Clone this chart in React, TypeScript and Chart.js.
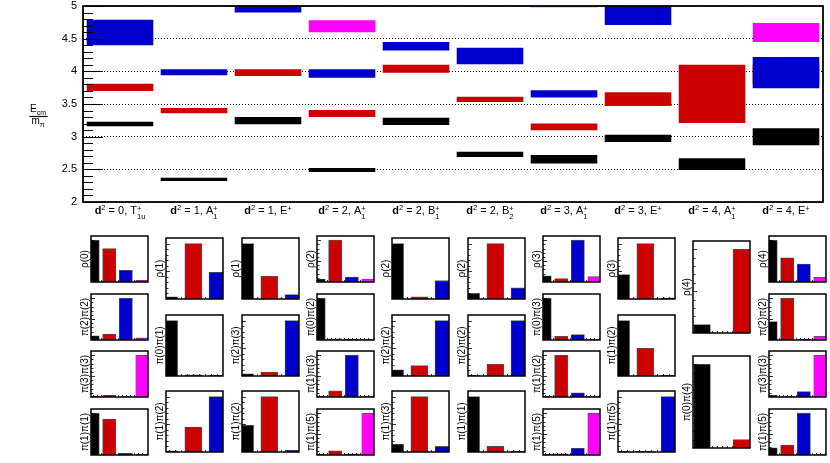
import React, { useEffect, useRef } from "react";
import { Chart, registerables } from "chart.js";

Chart.register(...registerables);

const FONT = '"Liberation Sans", Arial, Helvetica, sans-serif';

// ---------------- top panel: energy levels ----------------
const categories = [
  "d2=0, T1u+", "d2=1, A1+", "d2=1, E+", "d2=2, A1+", "d2=2, B1+",
  "d2=2, B2+", "d2=3, A1+", "d2=3, E+", "d2=4, A1+", "d2=4, E+",
];
const dSquared = [0, 1, 1, 2, 2, 2, 3, 3, 4, 4];
const irrepLetter = ["T", "A", "E", "A", "B", "B", "A", "E", "A", "E"];
const irrepSub = ["1u", "1", "", "1", "1", "2", "1", "", "1", ""];
const yMin = 2;
const yMax = 5;
const yStep = 0.5;

type Band = [number, number] | null;
const levelBlack: Band[] = [
  [3.16, 3.23], [2.32, 2.37], [3.19, 3.3], [2.46, 2.52], [3.18, 3.29],
  [2.69, 2.77], [2.59, 2.72], [2.92, 3.03], [2.49, 2.67], [2.87, 3.13],
];
const levelRed: Band[] = [
  [3.7, 3.81], [3.36, 3.44], [3.93, 4.03], [3.3, 3.41], [3.98, 4.1],
  [3.53, 3.61], [3.1, 3.2], [3.47, 3.68], [3.21, 4.1], [3.81, 4.1],
];
const levelBlue: Band[] = [
  [4.4, 4.79], [3.94, 4.03], [4.9, 5.05], [3.9, 4.03], [4.32, 4.45],
  [4.11, 4.36], [3.6, 3.71], [4.71, 5.05], null, [3.74, 4.22],
];
const levelMagenta: Band[] = [
  null, null, null, [4.6, 4.78], null, null, [4.98, 5.05], null, null, [4.45, 4.74],
];

// ---------------- bottom panels: overlaps ----------------
const opsCol0 = ["ρ(0)", "π(2)π(2)", "π(3)π(3)", "π(1)π(1)"];
const zCol0 = [[1.0, 0.8, 0.28, 0.04], [0.1, 0.14, 1.0, 0.05], [0.02, 0.04, 0.01, 1.0], [1.0, 0.86, 0.04, 0.02]];
const opsCol1 = ["ρ(1)", "π(0)π(1)", "π(1)π(2)"];
const zCol1 = [[0.04, 1.0, 0.48], [1.0, 0.02, 0.01], [0.02, 0.45, 1.0]];
const opsCol2 = ["ρ(1)", "π(2)π(3)", "π(1)π(2)"];
const zCol2 = [[1.0, 0.41, 0.08], [0.04, 0.07, 1.0], [0.48, 1.0, 0.03]];
const opsCol3 = ["ρ(2)", "π(0)π(2)", "π(1)π(3)", "π(1)π(5)"];
const zCol3 = [[0.07, 1.0, 0.12, 0.07], [1.0, 0.03, 0.02, 0.01], [0.01, 0.15, 1.0, 0.01], [0.01, 0.1, 0.03, 1.0]];
const opsCol4 = ["ρ(2)", "π(2)π(2)", "π(1)π(3)"];
const zCol4 = [[1.0, 0.04, 0.33], [0.11, 0.19, 1.0], [0.14, 1.0, 0.1]];
const opsCol5 = ["ρ(2)", "π(2)π(2)", "π(1)π(1)"];
const zCol5 = [[0.1, 1.0, 0.2], [0.01, 0.21, 1.0], [1.0, 0.1, 0.01]];
const opsCol6 = ["ρ(3)", "π(0)π(3)", "π(1)π(2)", "π(1)π(5)"];
const zCol6 = [[0.15, 0.08, 1.0, 0.13], [1.0, 0.09, 0.13, 0.01], [0.01, 1.0, 0.1, 0.01], [0.01, 0.03, 0.16, 1.0]];
const opsCol7 = ["ρ(3)", "π(1)π(2)", "π(1)π(5)"];
const zCol7 = [[0.44, 1.0, 0.02], [1.0, 0.5, 0.01], [0.01, 0.01, 1.0]];
const opsCol8 = ["ρ(4)", "π(0)π(4)"];
const zCol8 = [[0.1, 0, 1.0], [1.0, 0, 0.1]];
const opsCol9 = ["ρ(4)", "π(2)π(2)", "π(3)π(3)", "π(1)π(5)"];
const zCol9 = [[1.0, 0.58, 0.43, 0.11], [0.44, 1.0, 0.02, 0.09], [0.04, 0.01, 0.13, 1.0], [0.17, 0.24, 1.0, 0.01]];

const BLACK = "#000000";
const RED = "#cc0000";
const BLUE = "#0000cc";
const MAGENTA = "#ff00ff";
const colors4 = [BLACK, RED, BLUE, MAGENTA];
const colors3 = [BLACK, RED, BLUE];
const colors3b = [BLACK, BLUE, RED];

const panelColumns = [
  { ops: opsCol0, z: zCol0, colors: colors4, xr: [-0.1, 3.34], bp: 0.8 },
  { ops: opsCol1, z: zCol1, colors: colors3, xr: [-0.13, 2.23], bp: 0.7 },
  { ops: opsCol2, z: zCol2, colors: colors3, xr: [-0.13, 2.23], bp: 0.7 },
  { ops: opsCol3, z: zCol3, colors: colors4, xr: [-0.1, 3.34], bp: 0.8 },
  { ops: opsCol4, z: zCol4, colors: colors3, xr: [-0.13, 2.23], bp: 0.7 },
  { ops: opsCol5, z: zCol5, colors: colors3, xr: [-0.13, 2.23], bp: 0.7 },
  { ops: opsCol6, z: zCol6, colors: colors4, xr: [-0.1, 3.34], bp: 0.8 },
  { ops: opsCol7, z: zCol7, colors: colors3, xr: [-0.13, 2.23], bp: 0.7 },
  { ops: opsCol8, z: zCol8, colors: colors3b, xr: [-0.46, 2.44], bp: 0.85 },
  { ops: opsCol9, z: zCol9, colors: colors4, xr: [-0.1, 3.34], bp: 0.8 },
];

const rowLayouts: Record<number, { top: number; step: number; h: number }> = {
  4: { top: 236, step: 57.7, h: 46 },
  3: { top: 238, step: 76.7, h: 61 },
  2: { top: 241, step: 115, h: 92 },
};

// ---------------- top chart ----------------
function drawXLabel(ctx: CanvasRenderingContext2D, cx: number, base: number, i: number) {
  const fs = 11;
  const sm = 7.5;
  const bold = `bold ${fs}px ${FONT}`;
  const norm = `${fs}px ${FONT}`;
  const small = `${sm}px ${FONT}`;
  const mainText = ` = ${dSquared[i]}, ${irrepLetter[i]}`;
  ctx.font = bold;
  const wd = ctx.measureText("d").width;
  ctx.font = small;
  const w2 = ctx.measureText("2").width;
  const wPlus = ctx.measureText("+").width;
  const wSub = ctx.measureText(irrepSub[i]).width;
  ctx.font = norm;
  const wMain = ctx.measureText(mainText).width;
  const total = wd + w2 + wMain + Math.max(wPlus, wSub);
  let x = cx - total / 2;
  ctx.fillStyle = "#000";
  ctx.textAlign = "left";
  ctx.textBaseline = "alphabetic";
  ctx.font = bold;
  ctx.fillText("d", x, base);
  x += wd;
  ctx.font = small;
  ctx.fillText("2", x, base - 4);
  x += w2;
  ctx.font = norm;
  ctx.fillText(mainText, x, base);
  x += wMain;
  ctx.font = small;
  ctx.fillText("+", x, base - 3.5);
  if (irrepSub[i]) ctx.fillText(irrepSub[i], x, base + 4.5);
}

const topDecor = {
  id: "topDecor",
  afterDraw(chart: any) {
    const { ctx, chartArea } = chart;
    const { left, right, top, bottom } = chartArea;
    const ys = chart.scales.y;
    const xs = chart.scales.x;
    ctx.save();
    // ticks on the left axis (inside)
    ctx.strokeStyle = "#000";
    ctx.lineWidth = 1;
    for (let k = 0; k <= Math.round((yMax - yMin) / 0.1); k++) {
      const v = yMin + k * 0.1;
      const y = Math.round(ys.getPixelForValue(v)) + 0.5;
      const major = k % 5 === 0;
      ctx.beginPath();
      ctx.moveTo(left, y);
      ctx.lineTo(left + (major ? 20 : 10), y);
      ctx.stroke();
    }
    // frame
    ctx.lineWidth = 1.8;
    ctx.strokeRect(left, top, right - left, bottom - top);
    // category labels
    for (let i = 0; i < categories.length; i++) {
      drawXLabel(ctx, xs.getPixelForValue(i), 214, i);
    }
    // y title: E_cm / m_pi
    const cx = 38;
    ctx.fillStyle = "#000";
    ctx.textBaseline = "alphabetic";
    ctx.textAlign = "left";
    ctx.font = `10px ${FONT}`;
    const wE = ctx.measureText("E").width;
    ctx.font = `7px ${FONT}`;
    const wcm = ctx.measureText("cm").width;
    let x = cx - (wE + wcm) / 2;
    ctx.font = `10px ${FONT}`;
    ctx.fillText("E", x, 112);
    ctx.font = `7px ${FONT}`;
    ctx.fillText("cm", x + wE, 114.5);
    ctx.lineWidth = 1.2;
    ctx.beginPath();
    ctx.moveTo(29.5, 116.5);
    ctx.lineTo(47.5, 116.5);
    ctx.stroke();
    ctx.font = `10px ${FONT}`;
    const wm = ctx.measureText("m").width;
    ctx.font = `7px ${FONT}`;
    const wp = ctx.measureText("π").width;
    x = cx - (wm + wp) / 2;
    ctx.font = `10px ${FONT}`;
    ctx.fillText("m", x, 123.5);
    ctx.font = `7px ${FONT}`;
    ctx.fillText("π", x + wm, 126.5);
    ctx.restore();
  },
};

function TopChart() {
  const ref = useRef<HTMLCanvasElement>(null);
  useEffect(() => {
    const common = { grouped: false, barPercentage: 0.9, categoryPercentage: 1, clip: 0, borderWidth: 0 };
    const chart = new Chart(ref.current!, {
      type: "bar",
      data: {
        labels: categories,
        datasets: [
          { label: "level 1", data: levelBlack as any, backgroundColor: BLACK, order: 0, ...common },
          { label: "level 2", data: levelRed as any, backgroundColor: RED, order: 2, ...common },
          { label: "level 3", data: levelBlue as any, backgroundColor: BLUE, order: 1, ...common },
          { label: "level 4", data: levelMagenta as any, backgroundColor: MAGENTA, order: 3, ...common },
        ] as any,
      },
      options: {
        responsive: false,
        animation: false,
        events: [],
        layout: { padding: { left: 0, right: 7, top: 6, bottom: 30 } },
        plugins: { legend: { display: false }, tooltip: { enabled: false } },
        scales: {
          x: { type: "category", display: false },
          y: {
            min: yMin,
            max: yMax,
            ticks: {
              stepSize: yStep,
              padding: 6,
              color: "#000",
              font: { size: 11, family: FONT },
              callback: (v: any) => String(Math.round(Number(v) * 10) / 10),
            },
            grid: { color: "#000", lineWidth: 1, drawTicks: false },
            border: { display: false, dash: [1, 2] },
            afterFit: (s: any) => {
              s.width = 83;
              s.paddingTop = 0;
              s.paddingBottom = 0;
            },
          },
        },
      } as any,
      plugins: [topDecor],
    });
    return () => chart.destroy();
  }, []);
  return (
    <canvas
      ref={ref}
      width={830}
      height={232}
      style={{ position: "absolute", left: 0, top: 0, width: 830, height: 232 }}
    />
  );
}

// ---------------- overlap panels ----------------
function makePanelDecor(label: string) {
  return {
    id: "panelDecor",
    beforeDatasetsDraw(chart: any) {
      const { ctx, chartArea } = chart;
      const xs = chart.scales.x;
      ctx.save();
      ctx.strokeStyle = "#000";
      ctx.lineWidth = 0.8;
      const start = Math.ceil(xs.min / 0.25) * 0.25;
      for (let v = start; v <= xs.max; v += 0.25) {
        const x = Math.round(xs.getPixelForValue(v)) + 0.5;
        ctx.beginPath();
        ctx.moveTo(x, chartArea.bottom);
        ctx.lineTo(x, chartArea.bottom - 2);
        ctx.stroke();
      }
      ctx.restore();
    },
    afterDraw(chart: any) {
      const { ctx, chartArea } = chart;
      const { left, right, top, bottom } = chartArea;
      const ys = chart.scales.y;
      ctx.save();
      ctx.strokeStyle = "#000";
      ctx.lineWidth = 0.8;
      for (let k = 1; k <= 10; k++) {
        const y = Math.round(ys.getPixelForValue(k * 0.1)) + 0.5;
        ctx.beginPath();
        ctx.moveTo(left, y);
        ctx.lineTo(left + (k % 5 === 0 ? 4 : 2.5), y);
        ctx.stroke();
      }
      ctx.lineWidth = 1.5;
      ctx.strokeRect(left, top, right - left, bottom - top);
      ctx.translate(left - 6, (top + bottom) / 2);
      ctx.rotate(-Math.PI / 2);
      ctx.fillStyle = "#000";
      ctx.font = `10px ${FONT}`;
      ctx.textAlign = "center";
      ctx.textBaseline = "middle";
      ctx.fillText(label, 0, 0);
      ctx.restore();
    },
  };
}

type PanelProps = {
  left: number;
  top: number;
  width: number;
  height: number;
  label: string;
  values: number[];
  colors: string[];
  xMin: number;
  xMax: number;
  barPct: number;
};

function OverlapPanel(p: PanelProps) {
  const ref = useRef<HTMLCanvasElement>(null);
  const padL = 14, padR = 3, padT = 2, padB = 2;
  const cw = p.width + padL + padR;
  const ch = p.height + padT + padB;
  useEffect(() => {
    const thickness = (p.barPct * p.width) / (p.xMax - p.xMin);
    const chart = new Chart(ref.current!, {
      type: "bar",
      data: {
        datasets: [
          {
            label: p.label,
            data: p.values.map((v, i) => ({ x: i, y: v })) as any,
            backgroundColor: p.colors,
            borderColor: "rgba(40,40,40,0.8)",
            borderWidth: 0.8,
            barThickness: thickness,
            clip: 0,
          } as any,
        ],
      },
      options: {
        responsive: false,
        animation: false,
        events: [],
        layout: { padding: { left: padL, right: padR, top: padT, bottom: padB } },
        plugins: { legend: { display: false }, tooltip: { enabled: false } },
        scales: {
          x: {
            type: "linear",
            min: p.xMin,
            max: p.xMax,
            offset: false,
            display: false,
            grid: { offset: false },
            ticks: { stepSize: 1, includeBounds: false },
          },
          y: { min: 0, max: 1.1, display: false },
        },
      } as any,
      plugins: [makePanelDecor(p.label)],
    });
    return () => chart.destroy();
  }, []);
  return (
    <canvas
      ref={ref}
      width={cw}
      height={ch}
      style={{ position: "absolute", left: p.left - padL, top: p.top - padT, width: cw, height: ch }}
    />
  );
}

export default function App() {
  const panels: any[] = [];
  panelColumns.forEach((col, ci) => {
    const lay = rowLayouts[col.ops.length];
    const left = Math.round(91 + 75.3 * ci);
    col.ops.forEach((op, ri) => {
      panels.push(
        <OverlapPanel
          key={`${ci}-${ri}`}
          left={left}
          top={Math.round(lay.top + lay.step * ri)}
          width={57}
          height={lay.h}
          label={op}
          values={col.z[ri]}
          colors={col.colors}
          xMin={col.xr[0]}
          xMax={col.xr[1]}
          barPct={col.bp}
        />
      );
    });
  });
  return (
    <div style={{ position: "absolute", left: 0, top: 0, width: 830, height: 463, background: "#fff", overflow: "hidden" }}>
      <TopChart />
      {panels}
    </div>
  );
}
